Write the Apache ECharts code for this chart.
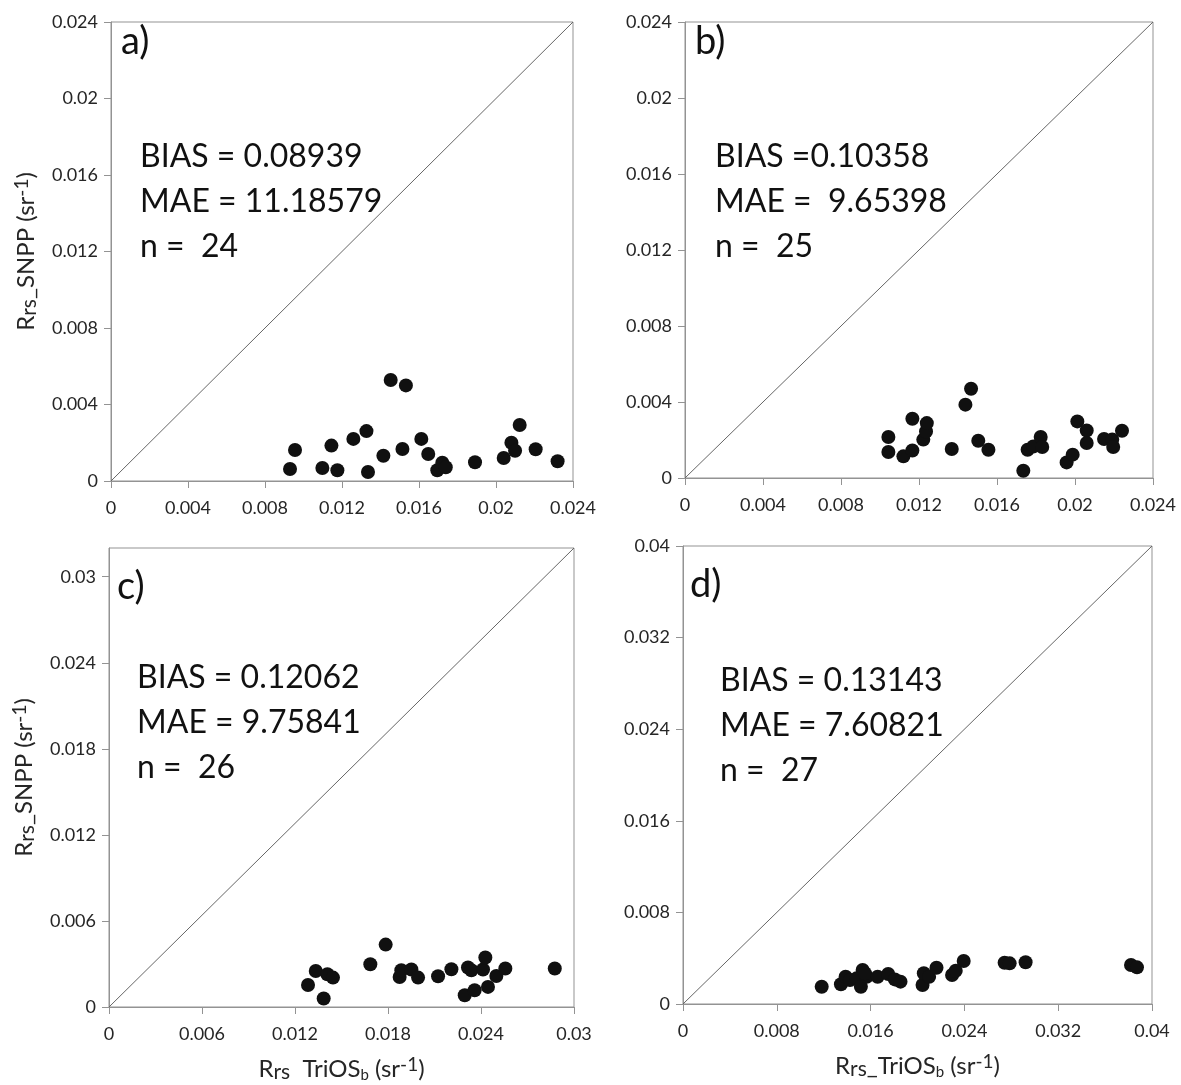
<!DOCTYPE html>
<html>
<head>
<meta charset="utf-8">
<script src="https://cdn.jsdelivr.net/npm/echarts@6/dist/echarts.min.js"></script>
<style>
  html, body { margin: 0; padding: 0; background: #fff; }
  #chart { width: 1181px; height: 1085px; }
</style>
</head>
<body>
<div id="chart"></div>
<script>
// Panel a) matchups: TriOS_b (x) vs SNPP (y)
const aX = [0.0093, 0.00956, 0.01098, 0.01145, 0.01176, 0.01259, 0.01327, 0.01335, 0.01415, 0.01453, 0.01514, 0.01532,
            0.01612, 0.01648, 0.01695, 0.01721, 0.01739, 0.01891, 0.0204, 0.0208, 0.02099, 0.02123, 0.02206, 0.0232];
const aY = [0.00063, 0.00162, 0.00068, 0.00185, 0.00056, 0.0022, 0.00261, 0.00047, 0.00132, 0.00528, 0.00167, 0.0050,
            0.0022, 0.00141, 0.00056, 0.00096, 0.00072, 0.00098, 0.0012, 0.002, 0.00158, 0.00293, 0.00166, 0.00103];

// Panel b)
const bX = [0.01043, 0.01043, 0.0112, 0.01166, 0.01166, 0.01222, 0.01236, 0.0124, 0.01368, 0.01438, 0.01467, 0.01504,
            0.01556, 0.01735, 0.01757, 0.01786, 0.01824, 0.01832, 0.01957, 0.01988, 0.02012, 0.0206, 0.0206, 0.02149,
            0.02191, 0.02196, 0.02241];
const bY = [0.00216, 0.00137, 0.00114, 0.00145, 0.00312, 0.00202, 0.00245, 0.00289, 0.00153, 0.00386, 0.0047, 0.00196,
            0.00149, 0.00038, 0.00149, 0.00166, 0.00216, 0.00163, 0.00082, 0.00123, 0.00298, 0.0025, 0.00184, 0.00205,
            0.00202, 0.00163, 0.00249];

// Panel c)
const cX = [0.01284, 0.01334, 0.01385, 0.01409, 0.01445, 0.01686, 0.01785, 0.01875, 0.01886, 0.01951, 0.01994, 0.02123,
            0.02209, 0.02295, 0.02316, 0.02338, 0.02359, 0.02413, 0.02428, 0.02445, 0.02499, 0.02557, 0.02876];
const cY = [0.00153, 0.00251, 0.00059, 0.00228, 0.00205, 0.00298, 0.00435, 0.00209, 0.00256, 0.00261, 0.00205, 0.00214,
            0.00263, 0.00082, 0.00275, 0.00256, 0.00117, 0.00261, 0.00345, 0.0014, 0.00216, 0.00268, 0.00268];

// Panel d)
const dX = [0.01183, 0.01347, 0.01387, 0.01424, 0.01481, 0.01517, 0.01532, 0.01566, 0.01551, 0.0166, 0.0175, 0.01807,
            0.01855, 0.02043, 0.02054, 0.02099, 0.02162, 0.02295, 0.02326, 0.02394, 0.02743, 0.02786, 0.02922, 0.03821,
            0.03872];
const dY = [0.00151, 0.00172, 0.00238, 0.00209, 0.00224, 0.00151, 0.00297, 0.00238, 0.00268, 0.00238, 0.00262, 0.00215,
            0.00195, 0.00166, 0.00268, 0.00238, 0.00317, 0.00253, 0.00291, 0.00375, 0.0036, 0.00355, 0.00364, 0.0034,
            0.0032];

// Axis ranges and ticks per panel
const aTicks = [0, 0.004, 0.008, 0.012, 0.016, 0.02, 0.024];
const bTicks = [0, 0.004, 0.008, 0.012, 0.016, 0.02, 0.024];
const cTicks = [0, 0.006, 0.012, 0.018, 0.024, 0.03];
const dTicks = [0, 0.008, 0.016, 0.024, 0.032, 0.04];
const aRange = [0.024, 0.024];
const bRange = [0.024, 0.024];
const cRange = [0.03, 0.032];
const dRange = [0.04, 0.04];

// Statistics text
const panelTags = ['a)', 'b)', 'c)', 'd)'];
const biasText = ['BIAS = 0.08939', 'BIAS =0.10358', 'BIAS = 0.12062', 'BIAS = 0.13143'];
const maeText = ['MAE = 11.18579', 'MAE =  9.65398', 'MAE = 9.75841', 'MAE = 7.60821'];
const nText = ['n =  24', 'n =  25', 'n =  26', 'n =  27'];

const FONT = 'Lato, "Open Sans", sans-serif';
const GRAY = '#939393';
const INK = '#262626';

const grids = [
  { left: 111, top: 22, width: 462, height: 459 },
  { left: 685, top: 22, width: 468, height: 456 },
  { left: 109, top: 548, width: 465, height: 459 },
  { left: 683, top: 546, width: 469, height: 458 }
];

const xsets = [aX, bX, cX, dX];
const ysets = [aY, bY, cY, dY];
const ticks = [aTicks, bTicks, cTicks, dTicks];
const ranges = [aRange, bRange, cRange, dRange];

const nameRich = {
  m: { fontSize: 24, fontFamily: FONT, color: INK },
  sub: { fontSize: 21, fontFamily: FONT, color: INK, verticalAlign: 'bottom', padding: [7, 0, 0, 0] },
  sup: { fontSize: 19, fontFamily: FONT, color: INK, verticalAlign: 'top', padding: [0, 0, 7, 0] },
  bsub: { fontSize: 15, fontFamily: FONT, color: INK, verticalAlign: 'bottom', padding: [7, 0, 0, 0] }
};
const yName = '{m|R}{sub|rs}{m|_SNPP (sr}{sup|-1}{m|)}';
const xNames = ['', '', '{m|R}{sub|rs}{m|  TriOS}{bsub|b}{m| (sr}{sup|-1}{m|)}', '{m|R}{sub|rs}{m|_TriOS}{bsub|b}{m| (sr}{sup|-1}{m|)}'];

function fmt(v) { return v === 0 ? '0' : String(+v.toFixed(4)); }

const xAxis = [], yAxis = [], series = [];
for (let i = 0; i < 4; i++) {
  const common = {
    min: 0,
    axisLine: { show: true, lineStyle: { color: GRAY, width: 1 } },
    axisTick: { show: true, inside: false, length: 7, lineStyle: { color: GRAY }, customValues: ticks[i] },
    splitLine: { show: false },
    axisLabel: { customValues: ticks[i], formatter: fmt, fontFamily: FONT, fontSize: 18, color: INK }
  };
  xAxis.push(Object.assign({}, common, {
    type: 'value', gridIndex: i, max: ranges[i][0],
    axisLabel: Object.assign({}, common.axisLabel, { margin: 18 }),
    name: xNames[i], nameLocation: 'middle', nameGap: 48,
    nameTextStyle: { rich: nameRich }
  }));
  yAxis.push(Object.assign({}, common, {
    type: 'value', gridIndex: i, max: ranges[i][1],
    axisLabel: Object.assign({}, common.axisLabel, { margin: 13 }),
    name: (i === 0 || i === 2) ? yName : '', nameLocation: 'middle', nameGap: 71, nameRotate: 90,
    nameTextStyle: { rich: nameRich }
  }));
  // 1:1 reference line from the origin to the top-right corner of the plot box
  series.push({
    type: 'line', xAxisIndex: i, yAxisIndex: i, silent: true, symbol: 'none',
    lineStyle: { color: '#666', width: 1 },
    data: [[0, 0], [ranges[i][0], ranges[i][1]]], z: 1
  });
  series.push({
    type: 'scatter', xAxisIndex: i, yAxisIndex: i, symbol: 'circle', symbolSize: 14,
    itemStyle: { color: '#101010', opacity: 1 },
    data: xsets[i].map((x, k) => [x, ysets[i][k]]), z: 3
  });
}

// Panel tags and statistics text, placed relative to each grid
const graphic = [];
const tagOffset = [[10, 24], [10, 24], [8, 43], [7, 43]];
const statOffset = [[29, 137], [30, 137], [28, 132], [37, 137]];
for (let i = 0; i < 4; i++) {
  const g = grids[i];
  graphic.push({
    type: 'text', left: g.left + tagOffset[i][0], top: g.top + tagOffset[i][1] - 23,
    style: { text: panelTags[i], font: '38px ' + FONT, fill: '#111' }
  });
  [biasText[i], maeText[i], nText[i]].forEach((t, k) => {
    graphic.push({
      type: 'text', left: g.left + statOffset[i][0], top: g.top + statOffset[i][1] - 18 + k * 45,
      style: { text: t, font: '32px ' + FONT, fill: '#111' }
    });
  });
}

const chart = echarts.init(document.getElementById('chart'), null, { renderer: 'canvas' });
chart.setOption({
  animation: false,
  backgroundColor: '#fff',
  grid: grids.map(g => Object.assign({ show: true, borderColor: GRAY, borderWidth: 1, backgroundColor: 'transparent', containLabel: false }, g)),
  xAxis, yAxis, series, graphic
});
</script>
</body>
</html>
